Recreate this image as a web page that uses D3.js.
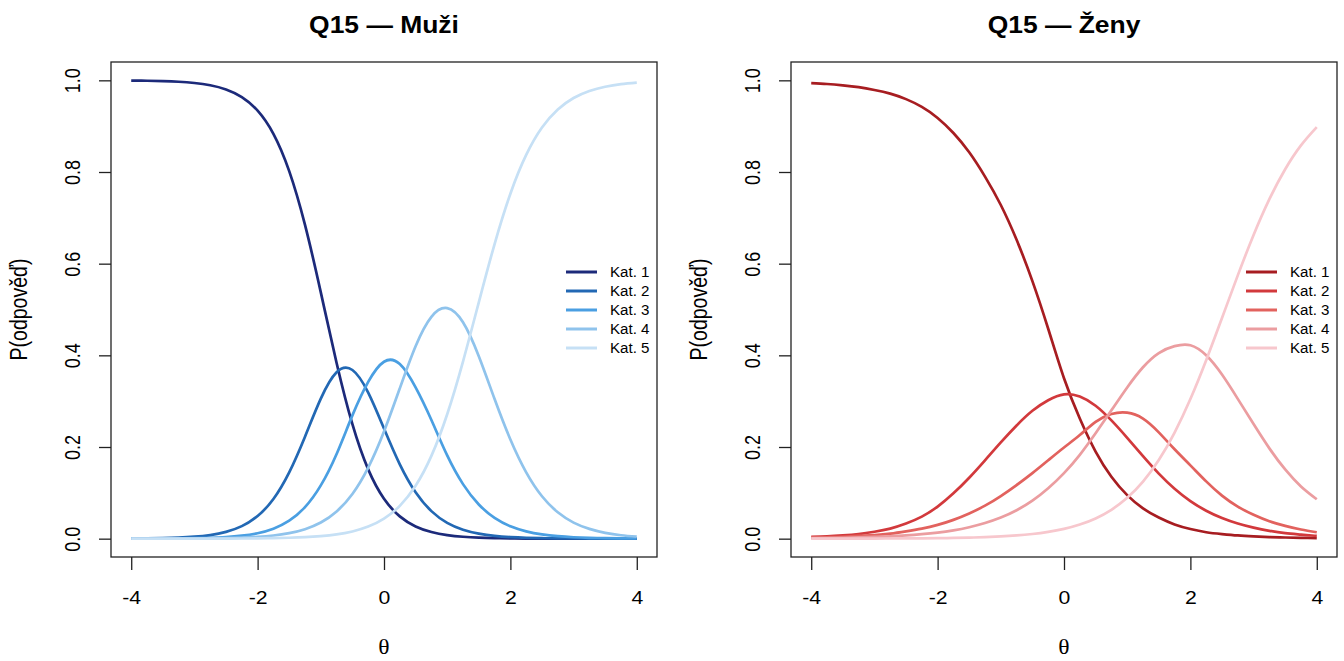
<!DOCTYPE html>
<html>
<head>
<meta charset="utf-8">
<script src="https://cdn.jsdelivr.net/npm/d3@7"></script>
<style>
body { margin: 0; background: #fff; }
svg { display: block; }
text { font-family: "Liberation Sans", Arial, sans-serif; fill: #000; }
</style>
</head>
<body>
<div id="chart"></div>
<script>
// hodnoty theta (osa x)
var theta = [-4, -3.75, -3.5, -3.25, -3, -2.75, -2.5, -2.25, -2, -1.75, -1.5, -1.25, -1, -0.75, -0.5, -0.25,
             0, 0.25, 0.5, 0.75, 1, 1.25, 1.5, 1.75, 2, 2.25, 2.5, 2.75, 3, 3.25, 3.5, 3.75, 4];

// Muzi
var muziK1 = [0.9995, 0.9991, 0.9983, 0.9969, 0.9942, 0.9893, 0.9802, 0.9635, 0.934, 0.8834, 0.802, 0.6846, 0.5374, 0.3834, 0.2497, 0.1512,
              0.0871, 0.0486, 0.0266, 0.0144, 0.0078, 0.0042, 0.0022, 0.0012, 0.0006, 0.0003, 0.0002, 0.0001, 0, 0, 0, 0, 0];
var muziK2 = [0.0004, 0.0006, 0.0012, 0.0023, 0.0043, 0.0079, 0.0147, 0.0273, 0.0494, 0.0867, 0.1448, 0.2226, 0.3056, 0.3631, 0.368, 0.3188,
              0.2403, 0.1622, 0.1013, 0.0601, 0.0345, 0.0195, 0.0109, 0.006, 0.0034, 0.0019, 0.001, 0.0006, 0.0004, 0.0002, 0.0001, 0.0001, 0];
var muziK3 = [0.0001, 0.0002, 0.0003, 0.0005, 0.001, 0.0019, 0.0035, 0.0065, 0.0119, 0.0218, 0.0392, 0.0688, 0.1162, 0.1848, 0.269, 0.342,
              0.386, 0.381, 0.33, 0.2589, 0.1816, 0.119, 0.0746, 0.0453, 0.027, 0.0159, 0.0093, 0.0054, 0.0031, 0.0018, 0.0011, 0.0006, 0.0004];
var muziK4 = [0.0001, 0.0001, 0.0001, 0.0002, 0.0004, 0.0008, 0.0013, 0.0023, 0.004, 0.0069, 0.012, 0.0207, 0.0352, 0.0594, 0.0976, 0.1551,
              0.2338, 0.328, 0.42, 0.484, 0.503, 0.472, 0.398, 0.3046, 0.2163, 0.1447, 0.0926, 0.0576, 0.0351, 0.0213, 0.0127, 0.0075, 0.0045];
var muziK5 = [0, 0, 0, 0, 0.0001, 0.0001, 0.0002, 0.0004, 0.0007, 0.0012, 0.002, 0.0033, 0.0056, 0.0093, 0.0157, 0.0263,
              0.0437, 0.0716, 0.1154, 0.1806, 0.2715, 0.3865, 0.5157, 0.6429, 0.7527, 0.8372, 0.8969, 0.9363, 0.9614, 0.9767, 0.9861, 0.9918, 0.9951];

// Zeny
var zenyK1 = [0.994, 0.992, 0.989, 0.985, 0.979, 0.971, 0.959, 0.942, 0.918, 0.885, 0.843, 0.79, 0.728, 0.652, 0.562, 0.458,
              0.35, 0.262, 0.19, 0.135, 0.095, 0.066, 0.046, 0.031, 0.021, 0.014, 0.01, 0.007, 0.005, 0.0035, 0.0025, 0.0018, 0.0013];
var zenyK2 = [0.004, 0.005, 0.007, 0.01, 0.015, 0.022, 0.033, 0.048, 0.07, 0.099, 0.133, 0.171, 0.21, 0.247, 0.279, 0.302,
              0.315, 0.31, 0.29, 0.258, 0.22, 0.18, 0.142, 0.109, 0.082, 0.061, 0.045, 0.033, 0.024, 0.017, 0.012, 0.009, 0.006];
var zenyK3 = [0.002, 0.003, 0.004, 0.006, 0.008, 0.011, 0.016, 0.022, 0.03, 0.041, 0.055, 0.072, 0.093, 0.117, 0.143, 0.171,
              0.199, 0.226, 0.255, 0.272, 0.275, 0.262, 0.232, 0.195, 0.16, 0.125, 0.094, 0.07, 0.052, 0.038, 0.028, 0.02, 0.014];
var zenyK4 = [0.001, 0.0014, 0.002, 0.0027, 0.0038, 0.0051, 0.0071, 0.0098, 0.0133, 0.0182, 0.025, 0.0341, 0.046, 0.062, 0.083, 0.11,
              0.143, 0.183, 0.23, 0.28, 0.33, 0.374, 0.405, 0.42, 0.422, 0.4, 0.358, 0.305, 0.25, 0.197, 0.151, 0.114, 0.086];
var zenyK5 = [0.0001, 0.0001, 0.0001, 0.0002, 0.0002, 0.0004, 0.0005, 0.0007, 0.0011, 0.0016, 0.0023, 0.0033, 0.0048, 0.007, 0.0102, 0.0148,
              0.0213, 0.0308, 0.0442, 0.063, 0.0891, 0.1245, 0.1715, 0.2315, 0.3047, 0.3894, 0.4813, 0.5744, 0.6626, 0.7408, 0.8061, 0.8581, 0.898];

var kategorie = ["Kat. 1", "Kat. 2", "Kat. 3", "Kat. 4", "Kat. 5"];
var xTicks = [-4, -2, 0, 2, 4];
var yTicks = [0, 0.2, 0.4, 0.6, 0.8, 1.0];

var barvyMuzi = ["#1c2a7a", "#2268b4", "#4a9fe2", "#8fc3ec", "#c6e0f5"];
var barvyZeny = ["#a71d21", "#d2393c", "#e2625e", "#eb9da0", "#f7c7cd"];

var W = 1344, H = 661;
var SX = 1.18;   // obrazek je vodorovne roztazeny

var svg = d3.select("#chart").append("svg")
    .attr("width", W)
    .attr("height", H);

function nakresliPanel(left, titulek, serie, barvy) {
    var box = { l: left, r: left + 546, t: 62, b: 557 };

    var x = d3.scaleLinear().domain([-4.32, 4.32]).range([box.l, box.r]);
    var y = d3.scaleLinear().domain([-0.04, 1.04]).range([box.b, box.t]);

    var g = svg.append("g");

    // krivky
    var line = d3.line()
        .x(function (d) { return x(d[0]); })
        .y(function (d) { return y(d[1]); })
        .curve(d3.curveNatural);

    serie.forEach(function (s, i) {
        g.append("path")
            .datum(theta.map(function (t, j) { return [t, s[j]]; }))
            .attr("d", line)
            .attr("fill", "none")
            .attr("stroke", barvy[i])
            .attr("stroke-width", 2.7)
            .attr("stroke-linejoin", "round");
    });

    // ramecek
    g.append("rect")
        .attr("x", box.l).attr("y", box.t)
        .attr("width", box.r - box.l).attr("height", box.b - box.t)
        .attr("fill", "none").attr("stroke", "#222").attr("stroke-width", 1.3);

    // osa x
    var ax = g.append("g")
        .attr("transform", "translate(0," + box.b + ")")
        .call(d3.axisBottom(x).tickValues(xTicks).tickSize(13).tickFormat(d3.format("d")));
    ax.select(".domain").remove();
    ax.selectAll(".tick line").attr("stroke", "#222").attr("stroke-width", 1.3);
    ax.selectAll(".tick text")
        .attr("y", 0).attr("dy", null)
        .attr("dominant-baseline", "central")
        .attr("transform", "translate(0,41) scale(" + SX + ",1)")
        .style("font-size", "18px")
        .style("font-family", "'Liberation Sans', Arial, sans-serif")
        .text(function (d) { return d < 0 ? "-" + Math.abs(d) : d; });

    // osa y
    var ay = g.append("g")
        .attr("transform", "translate(" + box.l + ",0)")
        .call(d3.axisLeft(y).tickValues(yTicks).tickSize(12).tickFormat(d3.format(".1f")));
    ay.select(".domain").remove();
    ay.selectAll(".tick line").attr("stroke", "#222").attr("stroke-width", 1.3);
    ay.selectAll(".tick text")
        .attr("x", 0).attr("dy", null)
        .attr("text-anchor", "middle")
        .attr("dominant-baseline", "central")
        .attr("transform", "translate(-38.5,0) scale(" + SX + ",1) rotate(-90)")
        .style("font-size", "18px")
        .style("font-family", "'Liberation Sans', Arial, sans-serif");

    // nadpis
    g.append("text")
        .attr("text-anchor", "middle")
        .attr("dominant-baseline", "central")
        .attr("transform", "translate(" + ((box.l + box.r) / 2) + ",25) scale(1.15,1)")
        .style("font-size", "23px")
        .style("font-weight", "bold")
        .text(titulek);

    // popisky os
    g.append("text")
        .attr("text-anchor", "middle")
        .attr("dominant-baseline", "central")
        .attr("transform", "translate(" + ((box.l + box.r) / 2) + ",648) scale(" + SX + ",1)")
        .style("font-family", "'Liberation Serif', 'DejaVu Serif', serif")
        .style("font-size", "20px")
        .text("θ");

    g.append("text")
        .attr("text-anchor", "middle")
        .attr("dominant-baseline", "central")
        .attr("transform", "translate(" + (box.l - 92) + "," + ((box.t + box.b) / 2) + ") scale(" + SX + ",1) rotate(-90)")
        .style("font-size", "19.5px")
        .text("P(odpověď)");

    // legenda
    var leg = g.append("g");
    kategorie.forEach(function (k, i) {
        var ly = 272 + i * 19;
        leg.append("line")
            .attr("x1", box.r - 91).attr("x2", box.r - 60)
            .attr("y1", ly).attr("y2", ly)
            .attr("stroke", barvy[i]).attr("stroke-width", 3);
        leg.append("text")
            .attr("dominant-baseline", "central")
            .attr("transform", "translate(" + (box.r - 47) + "," + ly + ") scale(1.08,1)")
            .style("font-size", "14px")
            .text(k);
    });
}

nakresliPanel(111, "Q15 — Muži", [muziK1, muziK2, muziK3, muziK4, muziK5], barvyMuzi);
nakresliPanel(791, "Q15 — Ženy", [zenyK1, zenyK2, zenyK3, zenyK4, zenyK5], barvyZeny);
</script>
</body>
</html>
